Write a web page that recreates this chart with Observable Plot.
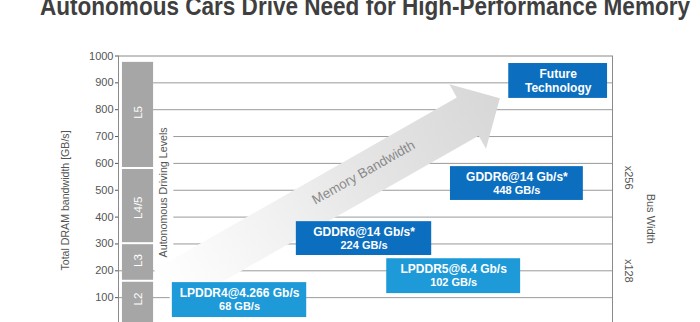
<!DOCTYPE html>
<html><head><meta charset="utf-8">
<script src="https://cdn.jsdelivr.net/npm/d3@7"></script>
<script src="https://cdn.jsdelivr.net/npm/@observablehq/plot@0.6"></script>
<style>
html,body{margin:0;padding:0;overflow:hidden;background:#fff;width:700px;height:322px;}
#wrap{position:relative;width:700px;height:322px;overflow:hidden;}
#title{position:absolute;left:40px;top:-9px;font:bold 26px "Liberation Sans",Arial,sans-serif;color:#3f3f3f;white-space:nowrap;transform-origin:0 0;line-height:30px;z-index:2;}
#chart{position:absolute;left:0;top:0;}
</style></head><body>
<div id="wrap"><div id="title">Autonomous Cars Drive Need for High-Performance Memory</div><div id="chart"></div></div>
<script>
// ---- data ----
const yTicks = [100, 200, 300, 400, 500, 600, 700, 800, 900, 1000];
const gridY = [100, 200, 300, 400, 500, 600, 700, 800, 900];
const gridFrom = [0, 0, 11.2, 11.2, 11.2, 11.2, 11.2, 7.1, 7.1];

const levelNames = ["L2", "L3", "L4/5", "L5"];
const levelLow = [0, 161, 301, 581];
const levelHigh = [161, 301, 581, 980];
const levelLabelY = [95, 238, 435, 790];
const levelLeft = 0.8, levelRight = 7.1;

const memName = ["LPDDR4@4.266 Gb/s", "GDDR6@14 Gb/s*", "LPDDR5@6.4 Gb/s", "GDDR6@14 Gb/s*", "Future"];
const memRate = ["68 GB/s", "224 GB/s", "102 GB/s", "448 GB/s", "Technology"];
const memKind = ["LPDDR", "GDDR", "LPDDR", "GDDR", "Future"];
const boxLow = [26, 257, 115, 462, 842];
const boxHigh = [156, 383, 245, 588, 972];
const boxLeft = [10.9, 36.0, 54.3, 67.2, 79.0];
const boxRight = [38.1, 63.4, 81.4, 94.1, 99.0];

const arrowFrom = [9.5, 130];
const arrowTo = [77.3, 841];
const arrowLabel = "Memory Bandwidth";
const arrowLabelAt = [49.6, 566];

const sideLabels = ["x256", "x128", "Bus Width"];
const sideLabelX = [103.2, 103.2, 107.7];
const sideLabelY = [547, 200, 394];

const yLabel = "Total DRAM bandwidth [GB/s]";
const yLabelAt = [-10.7, 462];
const levelsLabel = "Autonomous Driving Levels";
const levelsLabelAt = [9.1, 492];

// ---- tables ----
const grid = gridY.map((y, i) => ({y, x1: gridFrom[i], x2: 100}));
const levels = levelNames.map((name, i) => ({name, lo: levelLow[i], hi: levelHigh[i], ly: levelLabelY[i], x1: levelLeft, x2: levelRight}));
const boxes = memName.map((name, i) => ({name, rate: memRate[i], kind: memKind[i], lo: boxLow[i], hi: boxHigh[i], x1: boxLeft[i], x2: boxRight[i], xm: (boxLeft[i] + boxRight[i]) / 2}));
const sides = sideLabels.map((t, i) => ({t, x: sideLabelX[i], y: sideLabelY[i]}));

const boxColor = {LPDDR: "#1e9ad8", GDDR: "#0c6ebf", Future: "#0c6ebf"};

function arrowMark(index, scales) {
  const ns = "http://www.w3.org/2000/svg";
  const x = scales.x, y = scales.y;
  const x1 = x(arrowFrom[0]), y1 = y(arrowFrom[1]), x2 = x(arrowTo[0]), y2 = y(arrowTo[1]);
  const dx = x2 - x1, dy = y2 - y1, L = Math.hypot(dx, dy), ux = dx / L, uy = dy / L, px = -uy, py = ux;
  const sw = 22, hw = 37, hl = 37;
  const bx = x2 - ux * hl, by = y2 - uy * hl;
  const pts = [[x1 + px * sw, y1 + py * sw], [bx + px * sw, by + py * sw], [bx + px * hw, by + py * hw], [x2, y2],
               [bx - px * hw, by - py * hw], [bx - px * sw, by - py * sw], [x1 - px * sw, y1 - py * sw]];
  const g = document.createElementNS(ns, "g");
  g.innerHTML = `<defs><linearGradient id="arrowGrad" gradientUnits="userSpaceOnUse" x1="${x1}" y1="${y1}" x2="${x2}" y2="${y2}">` +
    `<stop offset="0" stop-color="#ffffff"/><stop offset="0.3" stop-color="#f3f3f3"/><stop offset="0.6" stop-color="#e5e5e5"/><stop offset="1" stop-color="#d7d7d7"/></linearGradient></defs>` +
    `<path d="M${pts.map(p => p.map(v => v.toFixed(2)).join(",")).join("L")}Z" fill="url(#arrowGrad)"/>`;
  return g;
}

const chart = Plot.plot({
  width: 700, height: 324,
  marginLeft: 118, marginRight: 88, marginTop: 55.5, marginBottom: 0,
  style: {fontFamily: '"Liberation Sans", Arial, sans-serif', fontSize: "11px", color: "#555", background: "transparent", overflow: "visible"},
  x: {domain: [0, 100], axis: null},
  y: {domain: [0, 1000], ticks: yTicks, tickFormat: "d", tickSize: 3, tickPadding: 2, label: null},
  marks: [
    Plot.ruleY(grid, {y: "y", x1: "x1", x2: "x2", stroke: "#9a9a9a", strokeWidth: 1}),
    Plot.ruleY([1000], {x1: 0, x2: 100, stroke: "#8a8a8a"}),
    Plot.ruleX([0, 100], {y1: 0, y2: 1000, stroke: "#8a8a8a"}),
    arrowMark,
    Plot.text([arrowLabel], {x: () => arrowLabelAt[0], y: () => arrowLabelAt[1], text: d => d, rotate: -29.5, fontSize: 13.5, fill: "#8a8a8a"}),
    Plot.rectY(levels, {x1: "x1", x2: "x2", y1: "lo", y2: "hi", fill: "#a6a6a6", insetTop: 1, insetBottom: 1}),
    Plot.text(levels, {x: d => (d.x1 + d.x2) / 2, y: "ly", text: "name", rotate: -90, fill: "white", fontSize: 11.5}),
    Plot.text([levelsLabel], {x: () => levelsLabelAt[0], y: () => levelsLabelAt[1], text: d => d, rotate: -90, fontSize: 10.7, fill: "#555"}),
    Plot.text([yLabel], {x: () => yLabelAt[0], y: () => yLabelAt[1], text: d => d, rotate: -90, fontSize: 10.6, fill: "#555"}),
    Plot.rectY(boxes, {x1: "x1", x2: "x2", y1: "lo", y2: "hi", fill: d => boxColor[d.kind]}),
    Plot.text(boxes, {x: "xm", y: "hi", text: "name", dy: 10.5, fill: "white", fontWeight: "bold", fontSize: 12}),
    Plot.text(boxes.filter(d => d.kind !== "Future"), {x: "xm", y: "hi", text: "rate", dy: 23.5, fill: "white", fontWeight: "bold", fontSize: 11}),
    Plot.text(boxes.filter(d => d.kind === "Future"), {x: "xm", y: "hi", text: "rate", dy: 24.5, fill: "white", fontWeight: "bold", fontSize: 12}),
    Plot.text(sides, {x: "x", y: "y", text: "t", rotate: 90, fontSize: 11, fill: "#555"})
  ]
});
document.getElementById("chart").appendChild(chart);

// fit the title to its width in the reference
const title = document.getElementById("title");
const w = title.getBoundingClientRect().width;
title.style.transform = `scaleX(${(650 / w).toFixed(4)})`;
</script>
</body></html>
